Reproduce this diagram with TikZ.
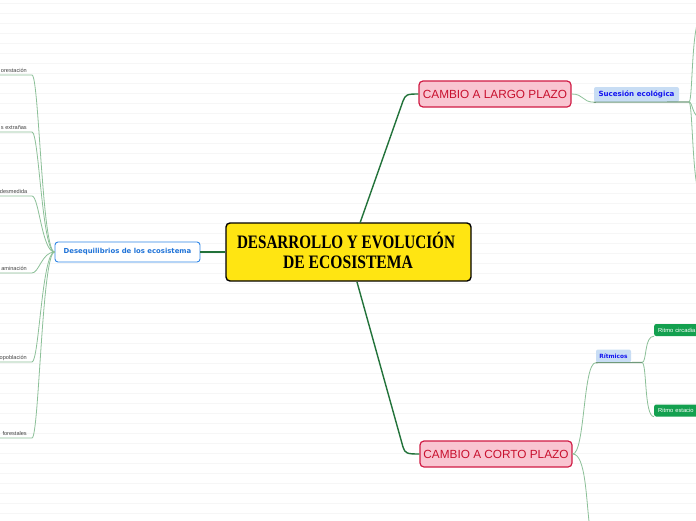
\documentclass[tikz,border=0pt]{standalone}
\usepackage{fontspec}
\setmainfont{Liberation Sans}
\newfontfamily\djv{DejaVu Sans}
\newfontfamily\heavyserif{Liberation Serif}
\usepackage{graphicx}
\definecolor{bgline}{HTML}{F6F6F6}
\definecolor{branchc}{HTML}{8CC098}
\definecolor{mainc}{HTML}{22723A}
\definecolor{yelc}{HTML}{FFE512}
\definecolor{pinkf}{HTML}{F9C5D1}
\definecolor{pinkd}{HTML}{D01C45}
\definecolor{pinkt}{HTML}{C8102E}
\definecolor{subf}{HTML}{C8DDF4}
\definecolor{subt}{HTML}{1515F0}
\definecolor{dqb}{HTML}{2F86E6}
\definecolor{dqt}{HTML}{1F73D8}
\definecolor{greenf}{HTML}{13A04F}
\definecolor{leaft}{HTML}{444444}
\tikzset{
  bgl/.style={draw=bgline, line width=0.7pt},
  branch/.style={draw=branchc, line width=0.8pt},
  underl/.style={draw=branchc!80!black, line width=1.1pt},
  mainline/.style={draw=mainc, line width=1.4pt},
  centerbox/.style={draw=black, line width=1.4pt, fill=yelc, rounded corners=4pt, minimum width=245pt, minimum height=58pt, inner sep=0pt},
  centertext/.style={anchor=base, inner sep=0pt, font=\heavyserif\bfseries\fontsize{19}{20}\selectfont},
  cambio/.style={draw=pinkd, line width=1.2pt, fill=pinkf, rounded corners=4pt, minimum width=152pt, minimum height=26pt, inner sep=0pt, text=pinkt, font=\fontsize{11.8}{12}\selectfont},
  subbox/.style={fill=subf, rounded corners=2pt, inner sep=0pt, text=subt, font=\djv\bfseries\fontsize{7.1}{8}\selectfont},
  dqbox/.style={draw=dqb, line width=0.9pt, fill=white, rounded corners=3pt, minimum width=145pt, minimum height=20pt, inner sep=0pt, text=dqt, font=\djv\bfseries\fontsize{6.9}{8}\selectfont},
  greenbox/.style={fill=greenf, rounded corners=2pt, minimum height=12pt, minimum width=50pt, inner xsep=4pt, inner ysep=0pt, anchor=west, text=white, font=\fontsize{5.8}{6}\selectfont, align=left, text width=42pt},
  leaftext/.style={anchor=base east, inner sep=0pt, text=leaft, font=\fontsize{5.6}{6}\selectfont}
}
\begin{document}
\begin{tikzpicture}[x=1pt,y=-1pt]
\useasboundingbox (0,0) rectangle (696,520);
\fill[white] (0,0) rectangle (696,520);
\begin{scope}
\clip (0,0) rectangle (696,520);
\foreach \k in {0,...,51} {\draw[bgl] (0,3.3+10*\k) -- (696,3.3+10*\k);}

% nodes
\node[centerbox] (main) at (348.5,252) {};
\node[centertext] (t1) at (346,248.5) {\resizebox{218pt}{\height}{DESARROLLO Y EVOLUCIÓN}};
\node[centertext] (t2) at (348,268) {\resizebox{130pt}{\height}{DE ECOSISTEMA}};

\node[cambio] (largo) at (495,94) {CAMBIO A LARGO PLAZO};
\node[cambio] (corto) at (496,454) {CAMBIO A CORTO PLAZO};
\node[subbox, minimum width=85pt, minimum height=15pt] (suc) at (636.5,94.5) {Sucesión ecológica};
\node[subbox, minimum width=35pt, minimum height=13pt, font=\djv\bfseries\fontsize{5.8}{7}\selectfont] (rit) at (613.5,356) {Rítmicos};
\node[greenbox] (rc) at (654,330) {Ritmo circadia};
\node[greenbox] (re) at (654,410.5) {Ritmo estacio};
\node[dqbox] (dq) at (127.5,252) {Desequilibrios de los ecosistema};

% leaves on the left
\node[leaftext] (l1) at (27,72) {orestación};
\node[leaftext] (l2) at (27,129) {s extrañas};
\node[leaftext] (l3) at (27.5,193) {desmedida};
\node[leaftext] (l4) at (27,270) {aminación};
\node[leaftext] (l5) at (27,359) {opoblación};
\node[leaftext] (l6) at (27,435) {forestales};
\coordinate (e1) at (-2,75);
\coordinate (e2) at (-2,132);
\coordinate (e3) at (-2,196);
\coordinate (e4) at (-2,273);
\coordinate (e5) at (-2,362);
\coordinate (e6) at (-2,438);
\foreach \i/\y in {1/75,2/132,3/196,4/273,5/362,6/438} {
  \draw[branch] (dq.west) .. controls (42,252) and (39,\y) .. (32,\y) -- (e\i);
}

% main connectors
\coordinate (mt) at (360,223);
\coordinate (mb) at (357,282);
\draw[mainline] (mt) -- (403,101) .. controls (405.5,94.5) and (407,94) .. (largo.west);
\draw[mainline] (mb) -- (403,447) .. controls (405,453.5) and (407,454) .. (corto.west);
\draw[mainline] (main.west) -- (dq.east);

% right side: long term
\coordinate (sj) at (689,102);
\coordinate (s1) at (702,16);
\coordinate (s2) at (702,118);
\coordinate (s3) at (702,197);
\draw[branch] (largo.east) .. controls (584,94) and (582,102) .. (suc.south west);
\draw[underl] (suc.south west) -- (sj);
\draw[branch] (sj) .. controls (693,102) and (691,17) .. (s1);
\draw[branch] (sj) .. controls (693,102) and (692,118) .. (s2);
\draw[branch] (sj) .. controls (693,102) and (692,197) .. (s3);

% right side: short term
\coordinate (rj) at (642,362.5);
\coordinate (cd) at (590,530);
\draw[branch] (corto.east) .. controls (585,454) and (583,362.5) .. (rit.south west);
\draw[underl] (rit.south west) -- (rj);
\draw[branch] (corto.east) .. controls (586,454) and (586,500) .. (cd);
\draw[branch] (rj) .. controls (647,362.5) and (644,336) .. (rc.south west);
\draw[branch] (rj) .. controls (647,362.5) and (644,416.5) .. (re.south west);
\end{scope}
\end{tikzpicture}
\end{document}
